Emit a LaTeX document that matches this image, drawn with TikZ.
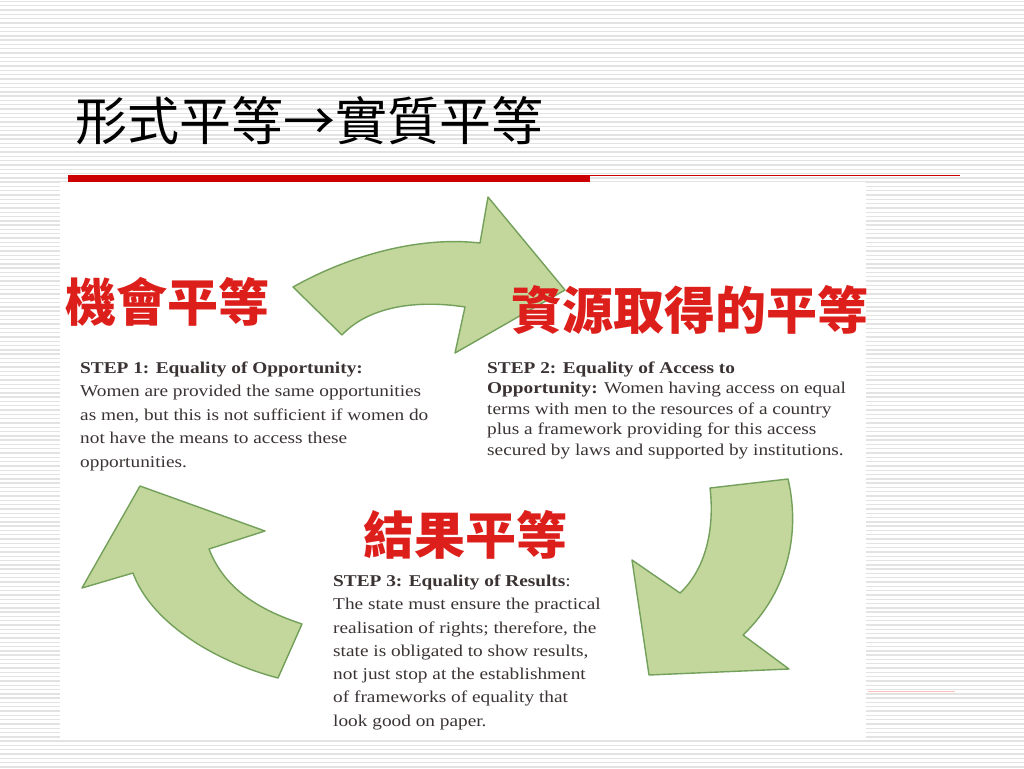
\documentclass[tikz,border=0pt]{standalone}
\usepackage{fontspec}
\usepackage{xcolor}
\usetikzlibrary{positioning}
\newfontfamily\cjk{Noto Sans CJK TC}
\newfontfamily\stepfont{Liberation Serif}[FakeStretch=1.17]
\definecolor{titlered}{HTML}{CC0000}
\definecolor{labelred}{HTML}{DD1F1B}
\definecolor{arrowfill}{HTML}{C3D69B}
\definecolor{arrowline}{HTML}{73A05A}
\definecolor{steptext}{HTML}{3B3333}

\begin{document}
\begin{tikzpicture}[x=1pt,y=-1pt,every node/.style={inner sep=0pt}]
    \tikzstyle{stripe}=[gray!22,line width=1.4pt];
    \tikzstyle{bigarrow}=[fill=arrowfill,draw=arrowline,line width=1.4pt,line join=round];
    \tikzstyle{lbl}=[font=\cjk\bfseries\fontsize{51}{51}\selectfont,text=labelred];
    \tikzstyle{stepbox}=[anchor=north west,align=left,text=steptext,
                         font=\stepfont\fontsize{16.5}{23.5}\selectfont];
    \useasboundingbox (0,0) rectangle (1024,768);
    % --- background: lined paper and white panel ---
    \foreach \k in {0,...,178}
      \draw[stripe] (0,{\k*4.3+1.5}) -- (1024,{\k*4.3+1.5});
    \fill[white] (60,182) rectangle (866,740);
    % --- title and rule ---
    \node[anchor=west,font=\cjk\fontsize{52}{52}\selectfont] (title) at (75,121)
      {形式平等→實質平等};
    \fill[titlered] (68,175) rectangle (590,182);
    \draw[titlered,line width=1pt] (590,175.5) -- (960,175.5);
    \draw[red!25,line width=0.8pt] (868,691) -- (955,691);
    % --- curved arrows ---
    \draw[bigarrow] (293,287) .. controls (350,255) and (420,236) .. (480,243)
      -- (488,197) -- (565,290) -- (455,353) -- (465,307)
      .. controls (420,300) and (370,305) .. (342,335) -- cycle;
    \draw[bigarrow] (710,488) -- (788,479)
      .. controls (800,530) and (790,590) .. (743,635)
      -- (789,669) -- (649,675) -- (632,560) -- (680,593)
      .. controls (705,570) and (715,530) .. (710,488) -- cycle;
    \draw[bigarrow] (140,486) -- (265,531) -- (209,549)
      .. controls (225,590) and (260,610) .. (302,624) -- (278,678)
      .. controls (210,660) and (150,620) .. (133,573) -- (82,588) -- cycle;
    % --- red labels ---
    \node[lbl] (opp) at (167,302) {機會平等};
    \node[lbl] (acc) at (690,310) {資源取得的平等};
    \node[lbl] (res) at (465,535) {結果平等};
    % --- step texts ---
    \node[stepbox] (step1) at (80,361.6)
      {\textbf{STEP 1: Equality of Opportunity:}\\
       Women are provided the same opportunities\\
       as men, but this is not sufficient if women do\\
       not have the means to access these\\
       opportunities.};
    \node[stepbox,font=\stepfont\fontsize{16.5}{20.5}\selectfont] (step2) at (487,361.6)
      {\textbf{STEP 2: Equality of Access to}\\
       \textbf{Opportunity:} Women having access on equal\\
       terms with men to the resources of a country\\
       plus a framework providing for this access\\
       secured by laws and supported by institutions.};
    \node[stepbox,font=\stepfont\fontsize{16.5}{23.3}\selectfont] (step3) at (333,574.6)
      {\textbf{STEP 3: Equality of Results}:\\
       The state must ensure the practical\\
       realisation of rights; therefore, the\\
       state is obligated to show results,\\
       not just stop at the establishment\\
       of frameworks of equality that\\
       look good on paper.};
  \end{tikzpicture}
\end{document}
